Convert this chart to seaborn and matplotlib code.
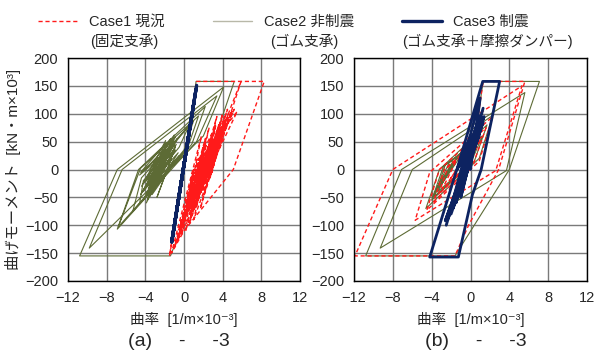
import matplotlib
matplotlib.use("Agg")
import matplotlib.pyplot as plt
from matplotlib.lines import Line2D
import seaborn as sns

# ---- panel (a) : Case1 (fixed bearing), red dashed ----
a1_x = [0, -1.5, 1.3, 8.3, 5.1, 0.0, -1.3, 1.8, 0.2, 2.6, 0.8, 3.4, 1.2, 4.0, 1.6, 4.5, 2.2, 4.8,
        5.9, 3.7, 1.0, 2.8, -0.5, 1.9, 0.4, 3.2, 0.9, 2.5, -0.3, 1.5, 0.5, 3.0, 1.3, 2.1, -0.8, 1.0,
        0.0, 2.3, 1.1, 3.6, 1.8, 2.9, 0.6, 1.7, -1.0, 0.8, 0.2, 2.0, 1.4, 3.9, 2.4, 3.3, 1.9, 2.7,
        0.3, 1.2, -0.6, 0.7, 2.6, 1.6, 4.2, 2.9, 3.5, 2.0, 3.1, 1.0, 2.2, 5.0, 3.8, 4.4, 2.5, 3.7,
        2.3, 3.0, 1.5, 2.4, 3.8, 1.4, 2.8, 0.1, 1.6, -0.4, 2.2, 0.7, 3.3, 1.9, 4.6, 2.7, 3.9, 1.1,
        2.0, -0.2, 0.9, 2.9, 1.3, 3.4, 0.4, 1.8, 5.5, 3.6, 4.1, 2.1, 2.8, 1.7, 3.2, 0.5, 2.5, 1.2,
        4.3, 3.0, 5.2, 3.5, 1.9, -0.9, 1.4, 2.6, 0.6, 3.1, 2.2, 4.0]
a1_y = [0, -155, 158, 158, 0, -110, -150, 60, -80, 75, -60, 95, -70, 100, -40, 108, -20, 110,
        158, 40, -90, 50, -120, 30, -50, 70, -30, 40, -100, 20, -75, 55, -35, 10, -130, 0,
        -90, 45, -50, 80, -15, 20, -95, -5, -140, -20, -110, 25, -60, 90, 0, 40, -40, 10,
        -60, -10, -125, -40, 30, -30, 95, -5, 60, -25, 30, -65, 20, 106, 60, 85, -10, 50,
        -30, 15, -50, 5, 70, -45, 35, -85, 10, -105, 55, -70, 80, -20, 100, -15, 75, -55,
        40, -115, -5, 65, -40, 45, -70, 20, 104, 35, 65, -45, 5, -70, 25, -95, 15, -60,
        90, 20, 108, 45, -35, -135, -30, 35, -80, 50, 0, 65]

# ---- panel (a) : Case2 (rubber bearing), olive ----
a2_x = [0, 1.25, 5.2, 2.1, -1.4, -10.8, -6.9, 4.1, 2.0, -9.8, -6.4, 3.4, 1.3, -6.9, -4.7, 2.2,
        0.8, -6.8, -4.5, 1.5, 0.4, -5.3, -4.4, 1.0, 0.0, -4.6, -4.2, 0.5, -0.5, -4.5, -0.9, -4.2,
        -1.3, -4.6, -0.8, -3.9, -1.6, -4.4, -1.0, -3.6, -0.6, -4.3, -1.4, -4.0, -0.9, -3.8, -1.8,
        -4.5, -1.2, -3.5, -1.5, -4.1, -2.0, -3.6, -1.7, -3.0, -2.2, -3.2, -2.5, -0.7, -4.0,
        -1.1, -3.3, -0.5, -3.7, -1.9, -4.2, -1.3, -2.8, -0.9, -3.4, -2.4]
a2_y = [0, 158, 158, 0, -155, -155, 0, 148, 60, -141, 0, 132, 50, -107, 0, 113,
        45, -103, 2, 96, 40, -75, -15, 88, 35, -62, -20, 78, 40, -45, 58, -55,
        50, -10, 45, -60, 40, -30, 62, -50, 30, -40, 55, -20, 35, -55, 48,
        -5, 42, -40, 30, -35, 20, -25, 38, -30, 10, -10, 0, 55, -50,
        48, -45, 25, -35, 52, -25, 20, -50, 40, -20, 5]

# ---- panel (a) : Case3 (rubber bearing + friction damper), navy ----
a3_x = [-1.27, 1.25, -1.16, 1.04, -1.27, 0.84, -0.77, 0.36, -1.27, 1.31]
a3_y = [-130, 145, -118, 122, -130, 100, -75, 48, -130, 151]

# ---- panel (b) : Case1 ----
b1_x = [0, 1.3, 5.6, 2.9, -0.2, -1.6, -11.9, -8.0, 5.3, 2.6, -5.7, -4.2, 2.3, 0.9, -4.5, -3.2,
        1.6, 0.3, -3.8, -2.7, 1.1, -0.2, -3.3, -2.3, 0.6, -0.5, -2.9, -1.5, -0.3, -2.2, -1.0]
b1_y = [0, 158, 158, 0, -100, -155, -155, 0, 150, -2, -91, -5, 95, 15, -73, 0,
        75, 10, -58, 0, 58, 8, -45, 5, 42, 5, -35, 15, 30, -20, 10]

# ---- panel (b) : Case2 ----
b2_x = [0, 1.3, 7.1, 4.0, -1.6, -10.8, -7.1, 5.6, 3.7, -9.3, -6.0, 2.3, 0.9, -4.6, -3.2, 1.7,
        0.4, -4.0, -2.8, 1.2, 0.0, -3.7, -2.6, 0.7, -0.4, -3.4, -1.4, -3.9, -2.2, -0.6, -3.1,
        -1.8, -3.5, -1.0, -2.8, -1.6]
b2_y = [0, 158, 158, 0, -155, -155, 0, 138, -2, -141, 0, 97, 20, -70, 0, 80,
        15, -55, 5, 60, 10, -48, 8, 48, 5, -40, 22, -50, 12, 35, -30,
        15, -35, 30, -15, 10]

# ---- panel (b) : Case3 ----
b3_x = [0, 1.0, -2.5, 0.9, -2.3, 1.4, -2.0, 0.8, -1.5, 1.2, -2.6, 0.5, -1.0, 1.3, -1.8, 0.3,
        -0.8, 1.0, -1.6, 0.6, -0.5, 1.3, -1.2, 0.2, -2.2, 0.9, -1.4, 1.26, 3.0, 1.1, 0.2, -1.25,
        -4.2, -1.5, 0.0]
b3_y = [0, 128, -100, 95, -88, 95, -80, 80, -60, 90, -92, 60, -50, 110, -70, 40,
        -30, 70, -55, 50, -10, 85, -40, 30, -75, 60, 0, 158, 158, 0, -45, -157,
        -157, -5, 60]

legend_labels = ["Case1 現況", "Case2 非制震", "Case3 制震"]
legend_sub = ["(固定支承)", "(ゴム支承)", "(ゴム支承＋摩擦ダンパー)"]
x_ticks = [-12, -8, -4, 0, 4, 8, 12]
y_ticks = [-200, -150, -100, -50, 0, 50, 100, 150, 200]

RED = "#ff1a1a"
OLIVE = "#5d6b35"
NAVY = "#0d2361"


def draw_path(ax, xs, ys, color, lw, dashed=False):
    sns.lineplot(x=xs, y=ys, sort=False, estimator=None, color=color,
                 linewidth=lw, ax=ax)
    line = ax.lines[-1]
    if dashed:
        line.set_dashes([3, 2])
    return line


def style_axes(ax):
    ax.set_xlim(-12, 12)
    ax.set_ylim(-200, 200)
    ax.set_xticks(x_ticks)
    ax.set_yticks(y_ticks)
    ax.grid(True, color="#7a7a7a", linewidth=1)
    ax.set_axisbelow(True)
    for sp in ax.spines.values():
        sp.set_color("black")
        sp.set_linewidth(1)
    ax.tick_params(length=0, pad=7, labelsize=10.5)
    ax.set_xlabel("曲率  [1/m×10⁻³]", fontsize=10.5, labelpad=5)


def main():
    sns.set_style("white")
    plt.rcParams["font.family"] = ["Liberation Sans", "Noto Sans CJK JP", "DejaVu Sans"]

    fig = plt.figure(figsize=(5.96, 3.54), dpi=100)
    ax_a = fig.add_axes([68 / 596, 73 / 354, 232 / 596, 223 / 354])
    ax_b = fig.add_axes([354 / 596, 73 / 354, 233 / 596, 223 / 354])

    # Panel (a)
    draw_path(ax_a, a2_x, a2_y, OLIVE, 0.8)
    draw_path(ax_a, a1_x, a1_y, RED, 1.0, dashed=True)
    draw_path(ax_a, a3_x, a3_y, NAVY, 2.3)

    # Panel (b)
    draw_path(ax_b, b2_x, b2_y, OLIVE, 0.8)
    draw_path(ax_b, b1_x, b1_y, RED, 1.0, dashed=True)
    draw_path(ax_b, b3_x, b3_y, NAVY, 2.0)

    style_axes(ax_a)
    style_axes(ax_b)
    ax_a.set_ylabel("曲げモーメント  [kN・m×10³]", fontsize=11, labelpad=3)
    ax_b.set_ylabel("")

    # Legend (first line) + second line of the labels
    h1 = Line2D([], [], color=RED, lw=1.0, dashes=[3, 2])
    h2 = Line2D([], [], color="#b8b8a8", lw=1.0)
    h3 = Line2D([], [], color=NAVY, lw=2.4)
    fig.legend([h1, h2, h3], legend_labels, loc="center left",
               bbox_to_anchor=(38 / 596, 1 - 22 / 354), ncol=3, frameon=False,
               handlelength=2.7, handletextpad=0.8, columnspacing=3.3,
               borderpad=0, borderaxespad=0, fontsize=10.5)
    for cx, txt in zip([124, 304, 487], legend_sub):
        fig.text(cx / 596, 1 - 41 / 354, txt, ha="center", va="center", fontsize=10.5)

    # Panel captions
    fig.text(179 / 596, 1 - 342 / 354, "(a)     -     -3", ha="center", va="center", fontsize=14)
    fig.text(476 / 596, 1 - 342 / 354, "(b)     -     -3", ha="center", va="center", fontsize=14)

    fig.savefig("out.png", dpi=100)


if __name__ == "__main__":
    main()
